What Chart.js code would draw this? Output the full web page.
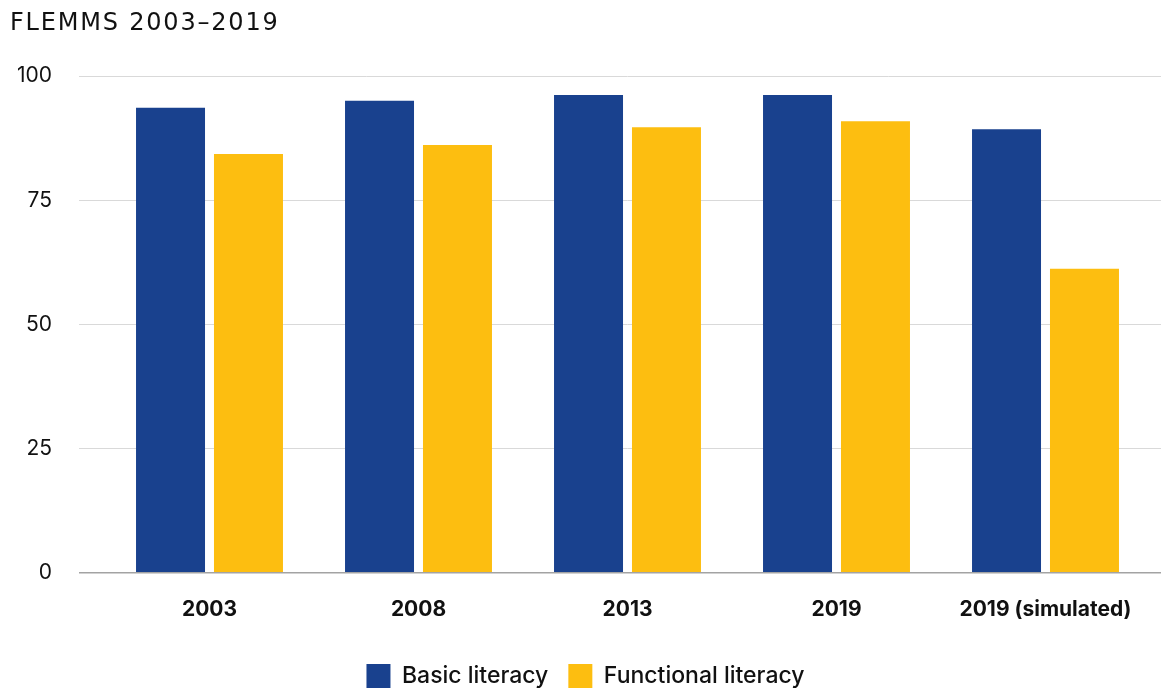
<!DOCTYPE html>
<html>
<head>
<meta charset="utf-8">
<script src="https://cdn.jsdelivr.net/npm/chart.js@4/dist/chart.umd.min.js"></script>
<style>
  html, body { margin: 0; padding: 0; background: #fff; }
  #wrap { width: 1161px; height: 691px; position: relative; }
  #chartTitle {
    position: absolute; left: 10px; top: 8px;
    font-family: "DejaVu Sans", sans-serif; font-size: 24px;
    letter-spacing: 1.8px; color: #111; white-space: nowrap;
  }
</style>
</head>
<body>
<div id="wrap">
  <div id="chartTitle">FLEMMS 2003–2019</div>
  <canvas id="mainChart"></canvas>
</div>
<script>
// data
const categories = ['2003', '2008', '2013', '2019', '2019 (simulated)'];
const basicLiteracy = [93.6, 95.0, 96.2, 96.2, 89.3];
const functionalLiteracy = [84.3, 86.1, 89.7, 90.9, 61.2];
const yTicks = [0, 25, 50, 75, 100];

const BLUE = '#19418E';
const YELLOW = '#FDBE10';
const FONT = 'Inter, "Noto Sans", sans-serif';

const canvas = document.getElementById('mainChart');

// gridline colour: zero line darker
const gridColor = (ctx) => ctx.tick && ctx.tick.value === 0 ? '#a3a3a3' : '#d9d9d9';
const gridWidth = (ctx) => ctx.tick && ctx.tick.value === 0 ? 1.5 : 1;

new Chart(canvas, {
    type: 'bar',
    data: {
        labels: categories,
        datasets: [
            { label: 'Basic literacy', data: basicLiteracy, backgroundColor: BLUE },
            { label: 'Functional literacy', data: functionalLiteracy, backgroundColor: YELLOW }
        ]
    },
    options: {
        responsive: true,
        maintainAspectRatio: false,
        animation: false,
        categoryPercentage: 0.746,
        barPercentage: 0.885,
        layout: { padding: { left: 10, right: 0, top: 76, bottom: -7 } },
        plugins: {
            title: { display: false },
            legend: {
                position: 'bottom',
                labels: {
                    boxWidth: 24,
                    boxHeight: 24,
                    padding: 20,
                    color: '#111',
                    font: { family: FONT, size: 23, weight: '500' }
                }
            },
            tooltip: { enabled: false }
        },
        scales: {
            x: {
                grid: { display: false },
                border: { display: false },
                afterFit: (scale) => { scale.height += 6; },
                ticks: {
                    color: '#111',
                    padding: 16,
                    font: { family: FONT, size: 21, weight: 'bold' }
                }
            },
            y: {
                min: 0,
                max: 100,
                afterBuildTicks: (scale) => {
                    scale.ticks = yTicks.map(v => ({ value: v }));
                },
                afterFit: (scale) => { scale.width = 95; },
                border: { display: false },
                grid: { tickLength: 26, color: gridColor, lineWidth: gridWidth },
                ticks: {
                    color: '#111',
                    padding: 27,
                    font: { family: FONT, size: 21 }
                }
            },
            yRight: {
                position: 'right',
                min: 0,
                max: 100,
                afterBuildTicks: (scale) => {
                    scale.ticks = yTicks.map(v => ({ value: v }));
                },
                border: { display: false },
                grid: { drawOnChartArea: false, tickLength: 11, color: gridColor, lineWidth: gridWidth },
                ticks: { display: false }
            }
        }
    }
});
</script>
</body>
</html>
